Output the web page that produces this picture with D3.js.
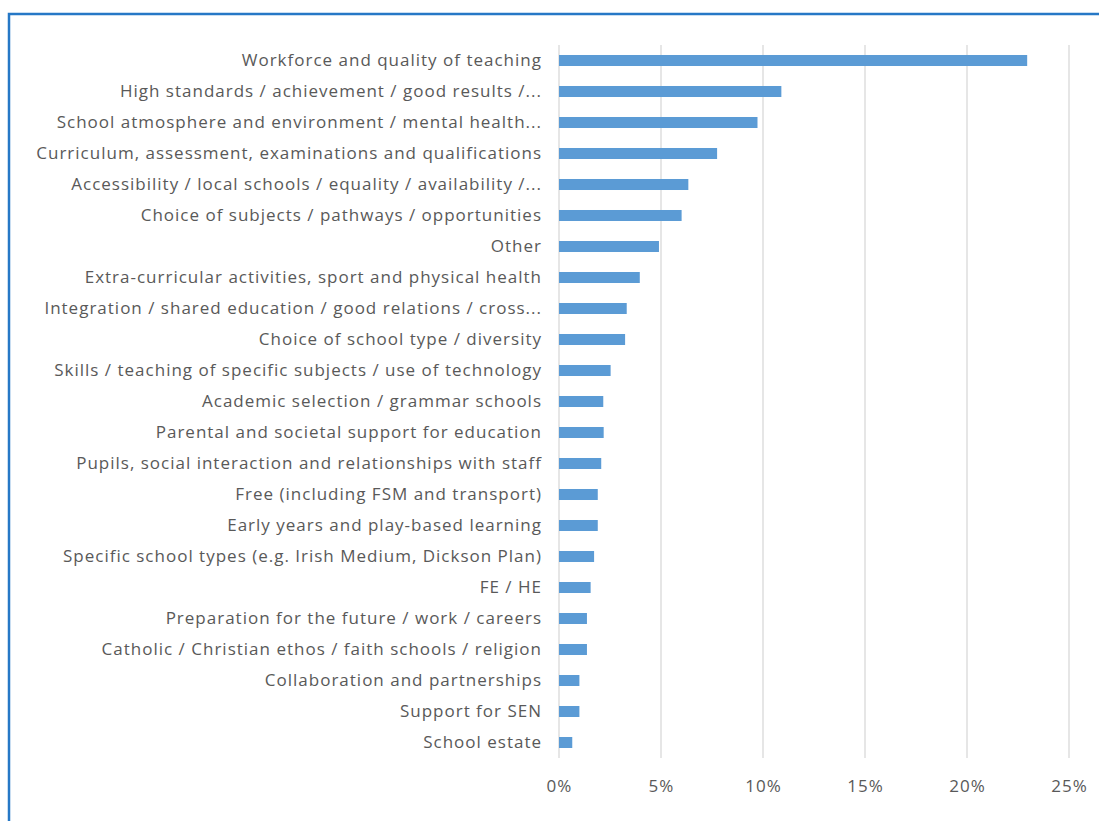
<!DOCTYPE html>
<html>
<head>
<meta charset="utf-8">
<script src="https://cdn.jsdelivr.net/npm/d3@7"></script>
<style>
  html, body { margin: 0; padding: 0; background: #ffffff; }
  svg { display: block; }
  .tick text { font-family: "Open Sans", "Liberation Sans", sans-serif; }
</style>
</head>
<body>
<svg id="chart" width="1099" height="821"></svg>
<script>
// Themes mentioned in responses, share of all mentions
const categories = [
  "Workforce and quality of teaching",
  "High standards / achievement / good results /...",
  "School atmosphere and environment / mental health...",
  "Curriculum, assessment, examinations and qualifications",
  "Accessibility / local schools / equality / availability /...",
  "Choice of subjects / pathways / opportunities",
  "Other",
  "Extra-curricular activities, sport and physical health",
  "Integration / shared education / good relations / cross...",
  "Choice of school type / diversity",
  "Skills / teaching of specific subjects / use of technology",
  "Academic selection / grammar schools",
  "Parental and societal support for education",
  "Pupils, social interaction and relationships with staff",
  "Free (including FSM and transport)",
  "Early years and play-based learning",
  "Specific school types (e.g. Irish Medium, Dickson Plan)",
  "FE / HE",
  "Preparation for the future / work / careers",
  "Catholic / Christian ethos / faith schools / religion",
  "Collaboration and partnerships",
  "Support for SEN",
  "School estate"
];
const shares = [
  0.2295, 0.1090, 0.0973, 0.0775, 0.0634, 0.0601, 0.0490, 0.0396,
  0.0332, 0.0324, 0.0253, 0.0217, 0.0219, 0.0207, 0.0190, 0.0190,
  0.0172, 0.0155, 0.0137, 0.0137, 0.0100, 0.0100, 0.0065
];
const tickValues = [0, 0.05, 0.10, 0.15, 0.20, 0.25];

const data = categories.map((c, i) => ({ category: c, value: shares[i] }));

const svg = d3.select("#chart");

// outer frame
svg.append("rect")
  .attr("x", 9).attr("y", 14)
  .attr("width", 1200).attr("height", 900)
  .attr("fill", "none")
  .attr("stroke", "#2678c6")
  .attr("stroke-width", 2.5);

const plot = { left: 559, right: 1069, top: 45, bottom: 758 };

const x = d3.scaleLinear()
  .domain([0, 0.25])
  .range([plot.left, plot.right]);

const y = d3.scaleBand()
  .domain(categories)
  .range([plot.top, plot.bottom])
  .paddingInner(0.645)
  .paddingOuter(0.3225);

// vertical gridlines
svg.append("g")
  .selectAll("line")
  .data(tickValues)
  .join("line")
  .attr("x1", d => x(d)).attr("x2", d => x(d))
  .attr("y1", plot.top).attr("y2", plot.bottom)
  .attr("stroke", "#d9d9d9")
  .attr("stroke-width", 1.3);

// bars
svg.append("g")
  .selectAll("rect")
  .data(data)
  .join("rect")
  .attr("x", x(0))
  .attr("y", d => y(d.category))
  .attr("width", d => x(d.value) - x(0))
  .attr("height", y.bandwidth())
  .attr("fill", "#5b9bd5");

// category axis
const yAxis = svg.append("g")
  .attr("transform", `translate(${plot.left},0)`)
  .call(d3.axisLeft(y).tickSize(0).tickPadding(17));
yAxis.select(".domain").remove();
yAxis.selectAll("text")
  .attr("fill", "#595959")
  .style("font-size", "17px")
  .style("letter-spacing", "1px");

// value axis
const xAxis = svg.append("g")
  .attr("transform", `translate(0,${plot.bottom})`)
  .call(d3.axisBottom(x).tickValues(tickValues).tickFormat(d3.format(".0%")).tickSize(0).tickPadding(22));
xAxis.select(".domain").remove();
xAxis.selectAll("text")
  .attr("fill", "#595959")
  .style("font-size", "17px")
  .style("letter-spacing", "1px");
</script>
</body>
</html>
